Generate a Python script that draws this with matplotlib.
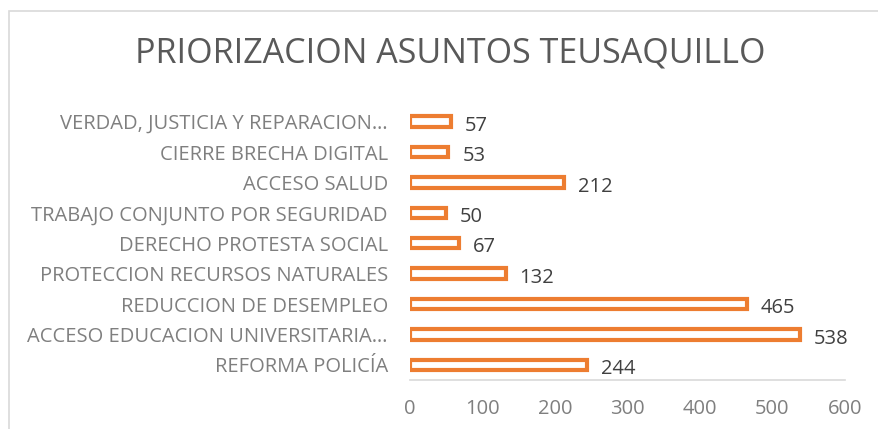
import matplotlib
matplotlib.use("Agg")
import matplotlib.pyplot as plt
from matplotlib.patches import Rectangle

categories = [
    "REFORMA POLICÍA",
    "ACCESO EDUCACION UNIVERSITARIA…",
    "REDUCCION DE DESEMPLEO",
    "PROTECCION RECURSOS NATURALES",
    "DERECHO PROTESTA SOCIAL",
    "TRABAJO CONJUNTO POR SEGURIDAD",
    "ACCESO SALUD",
    "CIERRE BRECHA DIGITAL",
    "VERDAD, JUSTICIA Y REPARACION…",
]
values = [244, 538, 465, 132, 67, 50, 212, 53, 57]
xticks = [0, 100, 200, 300, 400, 500, 600]
title = "PRIORIZACION ASUNTOS TEUSAQUILLO"

plt.rcParams['font.family'] = ['Open Sans', 'DejaVu Sans']

fig = plt.figure(figsize=(8.79, 4.29), dpi=100)
fig.patches.append(Rectangle((8.5/879, -0.1), 2.0, (429-11)/429 + 0.1,
                             transform=fig.transFigure, fill=False,
                             edgecolor='#d9d9d9', linewidth=1.2))

ax = fig.add_axes([410/879, 1-380/429, 435/879, 273.6/429])
ypos = list(range(len(categories)))
ax.barh(ypos, values, height=0.34, color='white', edgecolor='#ED7D31', linewidth=3.0)
for y, v in zip(ypos, values):
    ax.annotate(str(v), xy=(v, y), xytext=(10, -3), textcoords='offset points',
                va='center', ha='left', fontsize=14.5, color='#404040')

ax.set_xlim(0, 600)
ax.set_ylim(-0.5, len(categories) - 0.5)
ax.set_xticks(xticks)
ax.set_xticklabels([str(t) for t in xticks], fontsize=14.5, color='#7f7f7f')
ax.set_yticks(ypos)
ax.set_yticklabels(categories, fontsize=14.5, color='#7f7f7f')
ax.tick_params(axis='both', length=0)
ax.tick_params(axis='x', pad=14)
ax.tick_params(axis='y', pad=16)
for s in ['top', 'right', 'left']:
    ax.spines[s].set_visible(False)
ax.spines['bottom'].set_color('#d9d9d9')
ax.spines['bottom'].set_linewidth(1.2)

fig.text(450/879, 1-54/429, title, ha='center', va='center', fontsize=24.5, color='#595959')

fig.savefig("out.png", dpi=100)
